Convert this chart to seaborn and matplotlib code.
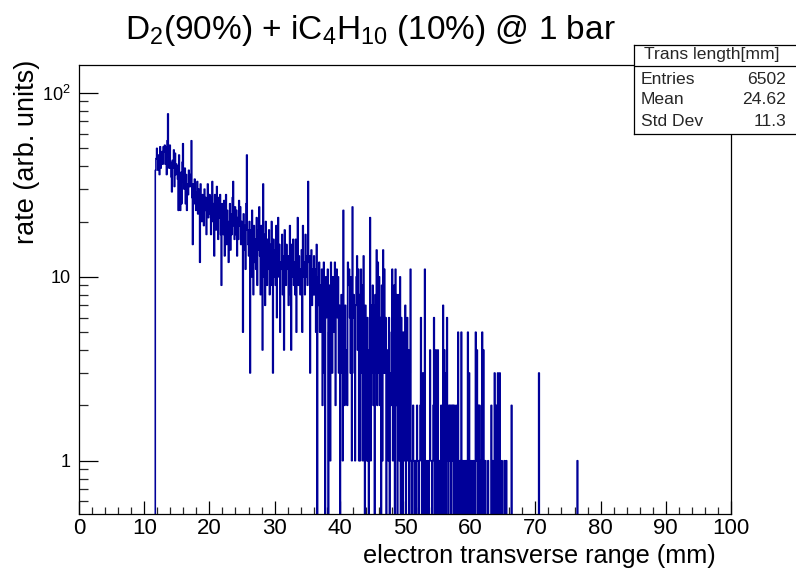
import numpy as np
import pandas as pd
import matplotlib
matplotlib.use("Agg")
import matplotlib.pyplot as plt
from matplotlib.ticker import MultipleLocator, FixedLocator, FixedFormatter, NullFormatter
import seaborn as sns

# ---------------- data ----------------
title_text = r"D$_2$(90%) + iC$_4$H$_{10}$ (10%) @ 1 bar"
x_label = "electron transverse range (mm)"
y_label = "rate (arb. units)"
stats_title = "Trans length[mm]"
stats_names = ["Entries", "Mean", "Std Dev"]
stats_values = ["6502", "24.62", "11.3"]

x_range = [0.0, 100.0]
bin_width_mm = 0.1
first_bin_mm = 11.7
counts = [
    38, 44, 50,
    44, 38, 46, 36, 51, 39, 45, 48, 41, 51,   # 12
    48, 52, 41, 51, 36, 55, 77, 45, 39, 52,   # 13
    42, 35, 29, 43, 39, 49, 31, 47, 36, 41,   # 14
    40, 34, 23, 46, 29, 23, 37, 25, 42, 53,   # 15
    33, 30, 39, 25, 36, 23, 32, 28, 38, 31,   # 16
    31, 36, 55, 27, 15, 32, 25, 34, 29, 23,   # 17
    27, 33, 22, 30, 25, 12, 32, 26, 20, 28,   # 18
    25, 19, 30, 23, 27, 17, 25, 32, 21, 24,   # 19
    28, 22, 17, 27, 33, 20, 25, 13, 28, 23,   # 20
    18, 31, 24, 16, 27, 21, 28, 17, 9, 25,    # 21
    22, 17, 26, 13, 20, 28, 15, 23, 18, 12,   # 22
    20, 25, 14, 22, 17, 27, 33, 19, 16, 24,   # 23
    17, 23, 13, 21, 16, 26, 19, 24, 15, 20,   # 24
    16, 5, 22, 14, 19, 11, 25, 46, 18, 15,    # 25
    13, 20, 3, 18, 10, 23, 15, 8, 19, 12,     # 26
    16, 11, 21, 9, 18, 14, 24, 13, 8, 19,     # 27
    14, 4, 32, 10, 17, 7, 20, 12, 9, 16,      # 28
    11, 18, 8, 15, 9, 20, 13, 3, 16, 10,      # 29
    14, 9, 19, 6, 13, 21, 10, 15, 5, 12,      # 30
    11, 17, 8, 13, 4, 18, 12, 9, 15, 11,      # 31
    13, 7, 11, 19, 8, 4, 15, 10, 16, 9,       # 32
    12, 8, 16, 5, 11, 21, 9, 13, 10, 8,       # 33
    11, 14, 5, 19, 10, 12, 8, 17, 10, 13,     # 34
    9, 33, 12, 13, 3, 11, 14, 7, 11, 8,       # 35
    13, 8, 11, 5, 15, 0, 10, 7, 12, 5,        # 36
    9, 5, 11, 2, 8, 12, 3, 0, 10, 6,          # 37
    7, 11, 0, 5, 9, 1, 12, 7, 3, 10,          # 38
    8, 5, 12, 2, 9, 11, 6, 10, 3, 7,          # 39
    0, 5, 8, 3, 1, 23, 4, 2, 7, 3,            # 40
    4, 2, 12, 9, 11, 6, 3, 10, 1, 24,         # 41
    6, 8, 3, 1, 7, 10, 13, 4, 11, 1,          # 42
    8, 1, 11, 3, 9, 1, 13, 5, 0, 7,           # 43
    2, 1, 6, 1, 0, 4, 21, 1, 7, 3,            # 44
    9, 2, 7, 0, 8, 3, 14, 2, 12, 3,           # 45
    10, 2, 6, 0, 9, 1, 14, 3, 11, 3,          # 46
    6, 0, 4, 3, 1, 6, 0, 3, 2, 5,             # 47
    11, 1, 6, 9, 0, 11, 2, 8, 0, 4,           # 48
    8, 1, 10, 0, 6, 3, 0, 5, 2, 1,            # 49
    7, 0, 5, 6, 1, 4, 0, 3, 11, 1,            # 50
    0, 1, 2, 1, 0, 1, 1, 0, 2, 1,             # 51
    1, 0, 1, 2, 6, 1, 0, 3, 1, 0,             # 52
    11, 1, 0, 1, 0, 1, 0, 1, 4, 1,            # 53
    1, 0, 1, 2, 6, 0, 2, 4, 0, 1,             # 54
    4, 0, 1, 1, 0, 2, 0, 1, 7, 0,             # 55
    4, 1, 0, 3, 6, 1, 0, 2, 1, 2,             # 56
    0, 2, 1, 2, 0, 2, 1, 0, 2, 1,             # 57
    0, 5, 1, 0, 1, 0, 5, 0, 1, 0,             # 58
    1, 0, 1, 0, 1, 0, 5, 0, 3, 1,             # 59
    0, 1, 0, 0, 1, 1, 0, 0, 5, 1,             # 60
    4, 0, 2, 0, 2, 1, 0, 0, 5, 0,             # 61
    4, 1, 0, 1, 0, 0, 0, 1, 0, 0,             # 62
    0, 0, 2, 0, 1, 0, 0, 3, 0, 0,             # 63
    2, 0, 3, 0, 1, 3, 0, 0, 1, 0,             # 64
    0, 0, 1, 0, 0, 1, 0, 0, 0, 0,             # 65
    0, 0, 0, 2, 0, 0, 0, 0, 0, 0,             # 66
    0, 0, 0, 0, 0, 0, 0, 0, 0, 0,             # 67
    0, 0, 0, 0, 0, 0, 0, 0, 0, 0,             # 68
    0, 0, 0, 0, 0, 0, 0, 0, 0, 0,             # 69
    0, 0, 0, 0, 0, 3, 0, 0, 0, 0,             # 70
    0, 0, 0, 0, 0, 0, 0, 0, 0, 0,             # 71
    0, 0, 0, 0, 0, 0, 0, 0, 0, 0,             # 72
    0, 0, 0, 0, 0, 0, 0, 0, 0, 0,             # 73
    0, 0, 0, 0, 0, 0, 0, 0, 0, 0,             # 74
    0, 0, 0, 0, 0, 0, 0, 0, 0, 0,             # 75
    0, 0, 0, 0, 1, 0, 0, 0, 0, 0,             # 76
]
y_range = [0.513, 142.0]
y_tick_values = [1, 10, 100]
y_tick_labels = ["1", "10", r"$10^{2}$"]

# ---------------- style ----------------
sns.set_theme(style="ticks")
plt.rcParams["font.family"] = ["Liberation Sans", "DejaVu Sans"]
plt.rcParams["mathtext.fontset"] = "custom"
plt.rcParams["mathtext.rm"] = "Liberation Sans"
plt.rcParams["mathtext.it"] = "Liberation Sans:italic"
plt.rcParams["mathtext.default"] = "regular"

W, H = 796, 571
fig = plt.figure(figsize=(W / 100, H / 100), dpi=100)
fig.patch.set_facecolor("white")

L, R, T, B = 79, 731, 65, 514
ax = fig.add_axes([L / W, 1 - B / H, (R - L) / W, (B - T) / H])
ax.set_facecolor("white")

n = len(counts)
centers = first_bin_mm + bin_width_mm * (np.arange(n) + 0.5)
df = pd.DataFrame({"x": centers, "w": counts})

sns.histplot(data=df, x="x", weights="w", binwidth=bin_width_mm, binrange=tuple(x_range),
             element="step", fill=False, color="#000099", linewidth=1.15, ax=ax)
ax.set_yscale("log", nonpositive="clip")
ax.set_xlim(*x_range)
ax.set_ylim(*y_range)
ax.set_xlabel("")
ax.set_ylabel("")

for s in ax.spines.values():
    s.set_visible(True)
    s.set_color("black")
    s.set_linewidth(0.9)

ax.xaxis.set_major_locator(MultipleLocator(10))
ax.xaxis.set_minor_locator(MultipleLocator(2))
ax.yaxis.set_major_locator(FixedLocator(y_tick_values))
ax.yaxis.set_major_formatter(FixedFormatter(y_tick_labels))
ax.yaxis.set_minor_locator(FixedLocator([0.6, 0.7, 0.8, 0.9, 2, 3, 4, 5, 6, 7, 8, 9,
                                         20, 30, 40, 50, 60, 70, 80, 90]))
ax.yaxis.set_minor_formatter(NullFormatter())
ax.tick_params(axis="x", which="major", direction="in", length=9.5, width=0.9,
               top=False, labelsize=16, pad=3, colors="black")
ax.tick_params(axis="x", which="minor", direction="in", length=4.7, width=0.9, top=False)
ax.tick_params(axis="y", which="major", direction="in", length=13.5, width=0.9,
               right=False, labelsize=13, pad=6, colors="black")
ax.tick_params(axis="y", which="minor", direction="in", length=6.5, width=0.9, right=False)

# titles
fig.text(370 / W, 1 - 30 / H, title_text, ha="center", va="center", fontsize=24, color="black")
fig.text(716 / W, 1 - 556 / H, x_label, ha="right", va="center", fontsize=18.2, color="black")
fig.text(27 / W, 1 - 60 / H, y_label, ha="center", va="top", rotation=90, fontsize=19.5,
         color="black")

# stats box
bx0, bx1, by0, by1 = 634, 798, 45, 134
sb = fig.add_axes([bx0 / W, 1 - by1 / H, (bx1 - bx0) / W, (by1 - by0) / H])
sb.set_xlim(bx0, bx1)
sb.set_ylim(by1, by0)
sb.set_xticks([])
sb.set_yticks([])
sb.set_facecolor("white")
for s in sb.spines.values():
    s.set_color("black")
    s.set_linewidth(0.9)
sb.axhline(66, color="black", linewidth=0.9)
sb.text((bx0 + 786) / 2 + 2, 55, stats_title, ha="center", va="center", fontsize=12.6)
for name, val, yy in zip(stats_names, stats_values, [79, 100, 121]):
    sb.text(641, yy, name, ha="left", va="center", fontsize=12.6)
    sb.text(786, yy, val, ha="right", va="center", fontsize=12.6)

fig.savefig("out.png", dpi=100, facecolor="white")
